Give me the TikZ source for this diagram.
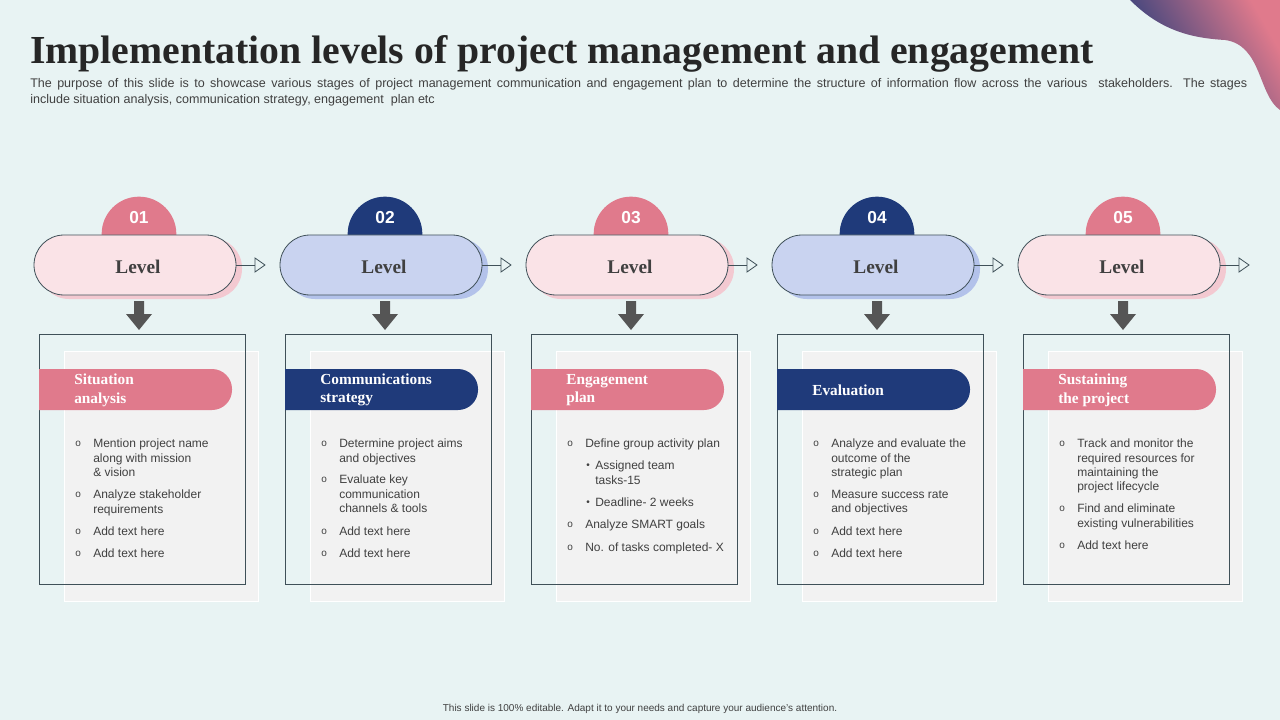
\documentclass[tikz,border=0pt]{standalone}
\usepackage{fontspec}
\setmainfont{Liberation Serif}
\setsansfont{Liberation Sans}
\definecolor{bg}{HTML}{E8F3F3}
\definecolor{pk}{HTML}{E07A8C}
\definecolor{nv}{HTML}{1F3A7A}
\definecolor{pkl}{HTML}{FAE3E7}
\definecolor{nvl}{HTML}{C9D3F0}
\definecolor{pks}{HTML}{F3C9D1}
\definecolor{nvs}{HTML}{B3C2EA}
\definecolor{txt}{HTML}{404040}
\definecolor{dk}{HTML}{555555}
\definecolor{ln}{HTML}{3F5058}
\tikzset{x=0.75pt,y=-0.75pt,
 bul/.style={anchor=base west,font=\sffamily\fontsize{7.5}{10.7}\selectfont,text=txt,inner sep=0,align=left},
 bult/.style={anchor=north west,font=\sffamily\fontsize{9}{10.7}\selectfont,text=txt,inner sep=0,align=left},
 hdr/.style={anchor=west,font=\rmfamily\bfseries\fontsize{11.5}{14}\selectfont,text=white,inner sep=0,align=left},
}
\newcommand{\itm}[4]{\node[bul] (#1o) at (#2+75,#3+4) {o}; \node[bult] (#1t) at (#2+93,#3-3) {#4};}
\newcommand{\sub}[4]{\node[bul] (#1o) at (#2+586-492,#3+4) {•}; \node[bult] (#1t) at (#2+595-492,#3-3) {#4};}
\begin{document}
\begin{tikzpicture}
\useasboundingbox (0,0) rectangle (1280,720);
\fill[bg] (0,0) rectangle (1280,720);
\shade[left color=nv, right color=pk, shading angle=120] (1130,0) .. controls (1160,30) and (1190,38) .. (1225,40) .. controls (1262,45) and (1258,95) .. (1280,110) -- (1280,0) -- cycle;
\node[anchor=base west,inner sep=0,font=\rmfamily\bfseries\fontsize{29.8}{32}\selectfont,text=black!85] (title) at (30,64) {Implementation levels of project management and engagement};
\node[anchor=north west,inner sep=0,text width=1217*0.75pt,align=justify,font=\sffamily\fontsize{9.4}{12}\selectfont,text=txt] (sub) at (30,78) {The purpose of this slide is to showcase various stages of project management communication and engagement plan to determine the structure of information flow across the various \ stakeholders. The stages\linebreak include situation analysis, communication strategy, engagement \ plan etc};
\node[inner sep=0,font=\sffamily\fontsize{7.5}{9}\selectfont,text=txt] (foot) at (640,709) {This slide is 100\% editable. Adapt it to your needs and capture your audience's attention.};
\foreach \i/\c/\cl/\cs/\n/\h in {0/pk/pkl/pks/01/{Situation\\analysis},1/nv/nvl/nvs/02/{Communications\\strategy},2/pk/pkl/pks/03/{Engagement\\plan},3/nv/nvl/nvs/04/Evaluation,4/pk/pkl/pks/05/{Sustaining\\the project}}{
 \begin{scope}[xshift=\i*246*0.75pt]
 \fill[\c] (139,234) circle (28pt);
 \node[font=\sffamily\bfseries\fontsize{13}{15}\selectfont,text=white] (num\i) at (139,218) {\n};
 \fill[\cs,rounded corners=22.5pt] (39,238) rectangle (242,299);
 \fill[\cl,draw=ln,line width=0.6pt,rounded corners=22.5pt] (34,235) rectangle (236,295);
 \node[font=\rmfamily\bfseries\fontsize{14.5}{16}\selectfont,text=txt] (lv\i) at (138,267) {Level};
 \coordinate (ra\i) at (236,265); \coordinate (rb\i) at (265,265);
 \draw[ln,line width=0.6pt] (ra\i) -- (255,265);
 \draw[ln,line width=0.6pt,fill=bg] (255,258) -- (265,265) -- (255,272) -- cycle;
 \fill[dk] (134,301) -- (144,301) -- (144,314) -- (152,314) -- (139,330) -- (126,314) -- (134,314) -- cycle;
 \fill[black!5,draw=white,line width=0.6pt] (64,351) rectangle (258,601);
 \draw[ln,line width=0.7pt] (39,334) rectangle (245,584);
 \begin{scope}
 \clip (39,360) rectangle (245,420);
 \fill[\c,rounded corners=15pt] (0,369) rectangle (232,410);
 \end{scope}
 \node[hdr] (h\i) at (74,390) {\h};
 \end{scope}
}
% column 1
\itm{a1}{0}{442}{Mention project name\\along with mission\\\& vision}
\itm{a2}{0}{493}{Analyze stakeholder\\requirements}
\itm{a3}{0}{530}{Add text here}
\itm{a4}{0}{552}{Add text here}
% column 2
\itm{b1}{246}{442}{Determine project aims\\and objectives}
\itm{b2}{246}{478}{Evaluate key\\communication\\channels \& tools}
\itm{b3}{246}{530}{Add text here}
\itm{b4}{246}{552}{Add text here}
% column 3
\itm{c1}{492}{442}{Define group activity plan}
\sub{c2}{492}{464}{Assigned team\\tasks-15}
\sub{c3}{492}{501}{Deadline- 2 weeks}
\itm{c4}{492}{523}{Analyze SMART goals}
\itm{c5}{492}{546}{No. of tasks completed- X}
% column 4
\itm{d1}{738}{442}{Analyze and evaluate the\\outcome of the\\strategic plan}
\itm{d2}{738}{493}{Measure success rate\\and objectives}
\itm{d3}{738}{530}{Add text here}
\itm{d4}{738}{552}{Add text here}
% column 5
\itm{e1}{984}{442}{Track and monitor the\\required resources for\\maintaining the\\project lifecycle}
\itm{e2}{984}{507}{Find and eliminate\\existing vulnerabilities}
\itm{e3}{984}{544}{Add text here}
\end{tikzpicture}
\end{document}
